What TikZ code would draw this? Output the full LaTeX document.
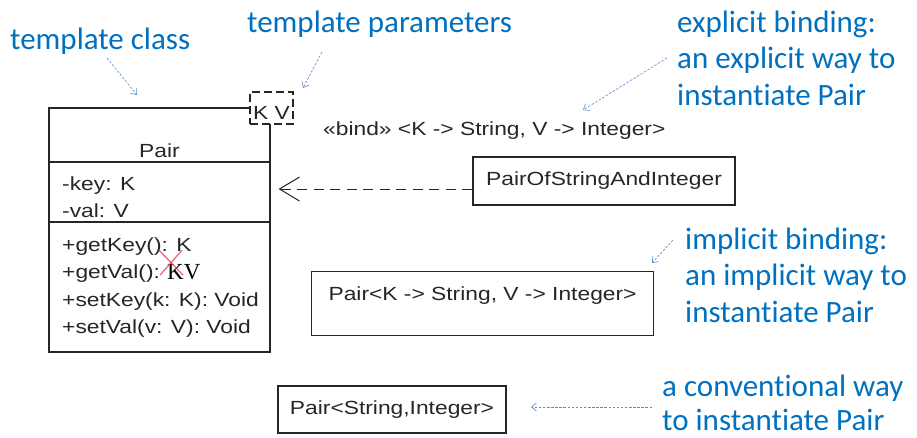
\documentclass[tikz,border=0pt]{standalone}
\usepackage{fontspec}
\setmainfont{Carlito}[Ligatures=NoCommon]
\newfontfamily\umlfont[FakeStretch=1.2]{Liberation Sans}
\newfontfamily\kvfont{Liberation Serif}
\usetikzlibrary{arrows.meta}
\definecolor{noteblue}{HTML}{0070C0}
\definecolor{leadblue}{HTML}{5B8BD0}
\definecolor{umlink}{HTML}{262626}
\definecolor{crossred}{HTML}{E8394A}
% stacked lines whose baseline is the first line
\newcommand{\stacklines}[1]{\begin{tabular}[t]{@{}l@{}}#1\end{tabular}}
\begin{document}
\begin{tikzpicture}[x=1pt,y=-1pt,
  uml/.style={font=\umlfont\fontsize{19}{27.5}\selectfont, text=umlink},
  umlbox/.style={draw=umlink, line width=1.1pt, fill=white, inner sep=0pt, uml},
  member/.style={uml, inner sep=0pt, anchor=base west},
  note/.style={font=\fontsize{31}{36.5}\selectfont, text=noteblue, inner sep=0pt, anchor=base west},
  lead/.style={draw=leadblue, line width=0.6pt, dash pattern=on 2.5pt off 1.6pt,
    -{Straight Barb[length=5pt,width=8pt]}},
  dep/.style={draw=umlink, line width=1pt, dash pattern=on 10pt off 6.5pt,
    -{Straight Barb[length=20pt,width=24pt,line width=1pt]}}]

\useasboundingbox[fill=white] (0,0) rectangle (917,437);

% template class Pair with its compartments
\node[umlbox, minimum width=221pt, minimum height=244pt] (pair) at (159.5,230) {};
\coordinate (sep1) at (0,162);
\coordinate (sep2) at (0,222);
\draw[umlink, line width=1.1pt] (pair.west |- sep1) -- (pair.east |- sep1);
\draw[umlink, line width=1.1pt] (pair.west |- sep2) -- (pair.east |- sep2);
\node[uml, inner sep=0pt, anchor=base] (pairname) at (159.5,157) {Pair};
\node[member] (attrs) at (62,190) {\stacklines{-key: K\\-val: V}};
\node[member] (ops) at (62,251) {\stacklines{+getKey(): K\\+getVal():\\+setKey(k: K): Void\\+setVal(v: V): Void}};
\node[inner sep=0pt, anchor=base west, font=\kvfont\fontsize{23}{23}\selectfont, text=black] (kv) at (167,279.5) {KV};
\draw[crossred, line width=1.3pt, opacity=0.75] (kv.west) ++(-8,-22) -- ++(24,25);
\draw[crossred, line width=1.3pt, opacity=0.75] (kv.west) ++(-7,3) -- ++(22,-25);

% template parameters
\node[umlbox, dash pattern=on 8pt off 4pt, minimum width=43pt, minimum height=32pt,
  text height=23.6pt, text depth=0pt] (tparams) at (271.5,108) {K V};

% explicit binding
\node[umlbox, minimum width=262pt, minimum height=48pt] (posi) at (604,181) {PairOfStringAndInteger};
\node[uml, inner sep=0pt, anchor=base west] (bindlbl) at (323,135) {«bind» <K -> String, V -> Integer>};
\draw[dep, shorten >=8pt] ([yshift=-8pt]posi.west) -- ([yshift=-8pt]posi.west -| pair.east);

% implicit binding
\node[umlbox, anchor=north west, minimum width=342pt, inner ysep=3pt,
  text height=26pt, text depth=32pt] (implicit) at (311,271) {Pair<K -> String, V -> Integer>};

% conventional instantiation
\node[umlbox, minimum width=228pt, minimum height=47pt] (conv) at (392,409.5) {Pair<String,Integer>};

% annotations
\node[note] (ntclass) at (10,49) {template class};
\node[note] (ntparams) at (247,32) {template parameters};
\node[note] (nexplicit) at (677,32) {\stacklines{explicit binding:\\an explicit way to\\instantiate Pair}};
\node[note] (nimplicit) at (685,249) {\stacklines{implicit binding:\\an implicit way to\\instantiate Pair}};
\node[note, font=\fontsize{31}{34.5}\selectfont] (nconv) at (662,396) {\stacklines{a conventional way\\to instantiate Pair}};

% leader arrows
\coordinate (tc-a) at (107,58);   \coordinate (tc-b) at (137,95);
\coordinate (tp-a) at (322,52);   \coordinate (tp-b) at (303,88);
\coordinate (ex-a) at (667,58);   \coordinate (ex-b) at (583,110);
\coordinate (im-a) at (673,240);  \coordinate (im-b) at (652,263);
\coordinate (cv-a) at (652,407);  \coordinate (cv-b) at (531,407);
\draw[lead] (tc-a) -- (tc-b);
\draw[lead] (tp-a) -- (tp-b);
\draw[lead] (ex-a) -- (ex-b);
\draw[lead] (im-a) -- (im-b);
\draw[lead] (cv-a) -- (cv-b);
\end{tikzpicture}
\end{document}
